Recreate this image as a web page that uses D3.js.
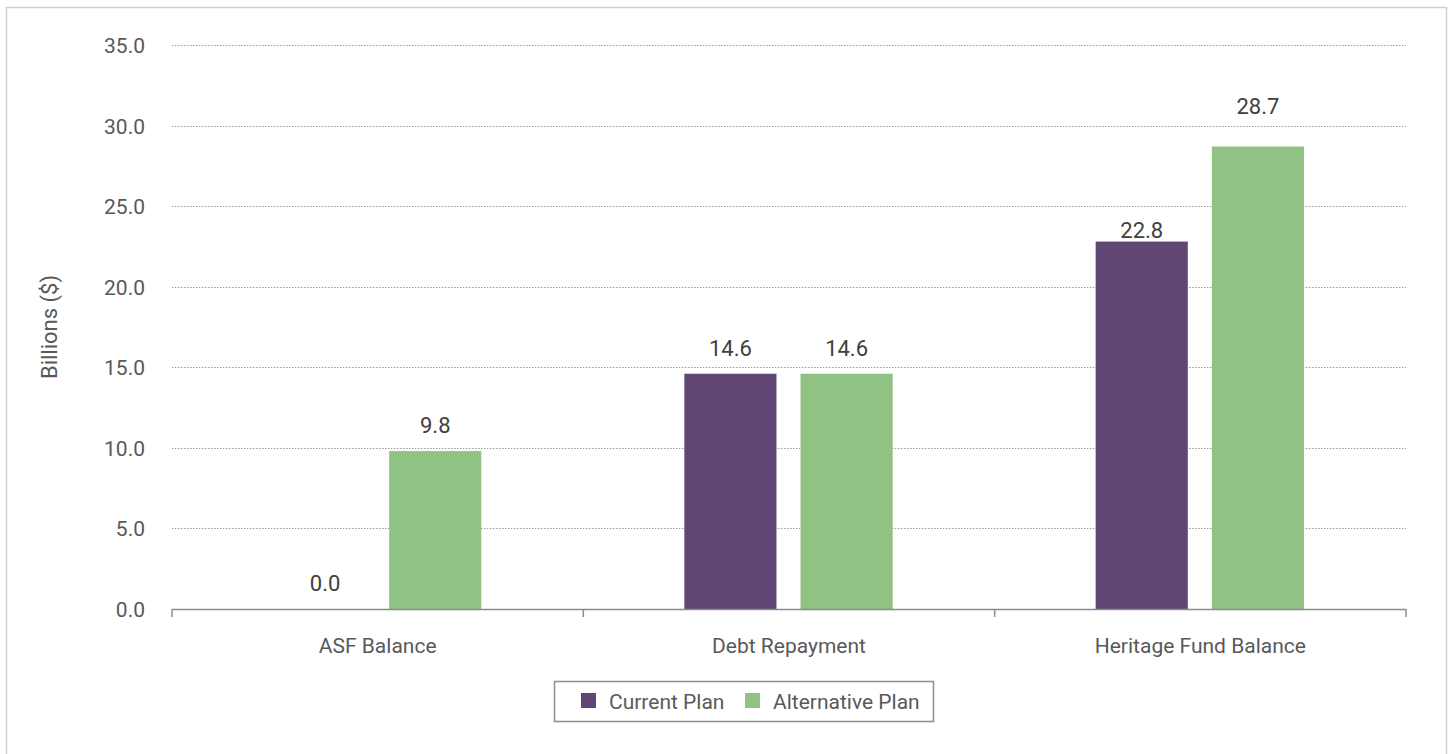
<!DOCTYPE html>
<html>
<head>
<meta charset="utf-8">
<script src="https://cdn.jsdelivr.net/npm/d3@7"></script>
<style>
  body { margin: 0; background: #ffffff; }
  text { font-family: "Liberation Sans Narrow", "Arial Narrow", Roboto, sans-serif; }
</style>
</head>
<body>
<svg id="chart" width="1451" height="754"></svg>
<script>
var categories = ["ASF Balance", "Debt Repayment", "Heritage Fund Balance"];
var seriesNames = ["Current Plan", "Alternative Plan"];
var currentPlan = [0.0, 14.6, 22.8];
var alternativePlan = [9.8, 14.6, 28.7];
var yTicks = [0, 5, 10, 15, 20, 25, 30, 35];
var colors = ["#5F4675", "#8FC283"];

var svg = d3.select("#chart");
var plotLeft = 172, plotRight = 1406, plotTop = 45, plotBottom = 609;

// outer frame
svg.append("rect")
    .attr("x", 6.5).attr("y", 7.5)
    .attr("width", 1440).attr("height", 760)
    .attr("fill", "none").attr("stroke", "#d0d0d0").attr("stroke-width", 1.5);

var x0 = d3.scaleBand().domain(categories).range([plotLeft, plotRight]).paddingInner(0).paddingOuter(0);
var x1 = d3.scaleBand().domain(seriesNames).range([101, x0.bandwidth() - 102]).paddingInner(0.207);
var y = d3.scaleLinear().domain([0, 35]).range([plotBottom, plotTop]);

// gridlines
svg.selectAll(".grid").data(yTicks.filter(function(d){ return d > 0; })).enter()
    .append("line")
    .attr("x1", plotLeft).attr("x2", plotRight)
    .attr("y1", function(d){ return Math.round(y(d)) + 0.5; })
    .attr("y2", function(d){ return Math.round(y(d)) + 0.5; })
    .attr("stroke", "#9a9a9a").attr("stroke-width", 1)
    .attr("stroke-dasharray", "1.5,1.5");

// y tick labels
svg.selectAll(".ytick").data(yTicks).enter()
    .append("text")
    .attr("x", 145).attr("y", function(d){ return y(d) + 8; })
    .attr("text-anchor", "end")
    .style("font-size", "21px").style("fill", "#595959")
    .text(function(d){ return d.toFixed(1); });

// y title
svg.append("text")
    .attr("transform", "translate(57," + ((plotTop + plotBottom) / 2) + ") rotate(-90)")
    .attr("text-anchor", "middle")
    .style("font-size", "22px").style("fill", "#595959")
    .text("Billions ($)");

var rows = categories.map(function(c, i){
    return [
        {cat: c, s: seriesNames[0], v: currentPlan[i], k: "c" + i},
        {cat: c, s: seriesNames[1], v: alternativePlan[i], k: "a" + i}
    ];
});

var groups = svg.selectAll(".grp").data(rows).enter()
    .append("g")
    .attr("transform", function(d){ return "translate(" + x0(d[0].cat) + ",0)"; });

groups.selectAll("rect").data(function(d){ return d; }).enter()
    .append("rect")
    .attr("x", function(d){ return x1(d.s); })
    .attr("width", x1.bandwidth())
    .attr("y", function(d){ return y(d.v); })
    .attr("height", function(d){ return plotBottom - y(d.v); })
    .attr("fill", function(d){ return colors[seriesNames.indexOf(d.s)]; });

// labels sit above bars; two of them were nudged in the original
groups.selectAll("text").data(function(d){ return d; }).enter()
    .append("text")
    .attr("x", function(d){ return x1(d.s) + x1.bandwidth() / 2 + (d.v === 0 ? 6 : 0); })
    .attr("y", function(d){
        var off = 18;
        if (d.k === "c2") off = 4;
        if (d.k === "a2") off = 33;
        return y(d.v) - off;
    })
    .attr("text-anchor", "middle")
    .style("font-size", "22px").style("fill", "#404040")
    .text(function(d){ return d.v.toFixed(1); });

// x axis
var xAxis = svg.append("g").attr("transform", "translate(0," + plotBottom + ")");
xAxis.append("line")
    .attr("x1", plotLeft).attr("x2", plotRight).attr("y1", 0.5).attr("y2", 0.5)
    .attr("stroke", "#8c8c8c").attr("stroke-width", 1.5);
var bounds = categories.map(function(c){ return x0(c); }).concat([plotRight]);
xAxis.selectAll(".tk").data(bounds).enter()
    .append("line")
    .attr("x1", function(d){ return d; }).attr("x2", function(d){ return d; })
    .attr("y1", 0).attr("y2", 8)
    .attr("stroke", "#8c8c8c").attr("stroke-width", 1.5);
xAxis.selectAll(".xl").data(categories).enter()
    .append("text")
    .attr("x", function(d){ return x0(d) + x0.bandwidth() / 2; })
    .attr("y", 44)
    .attr("text-anchor", "middle")
    .style("font-size", "21px").style("fill", "#595959")
    .text(function(d){ return d; });

// legend
var legend = svg.append("g");
legend.append("rect")
    .attr("x", 554.5).attr("y", 681.5).attr("width", 379).attr("height", 40)
    .attr("fill", "#fff").attr("stroke", "#8c8c8c").attr("stroke-width", 1.5);
var legX = [581, 745];
seriesNames.forEach(function(s, i){
    legend.append("rect")
        .attr("x", legX[i]).attr("y", 693).attr("width", 15).attr("height", 15)
        .attr("fill", colors[i]);
    legend.append("text")
        .attr("x", legX[i] + 28).attr("y", 709)
        .style("font-size", "21px").style("fill", "#595959")
        .text(s);
});
</script>
</body>
</html>
